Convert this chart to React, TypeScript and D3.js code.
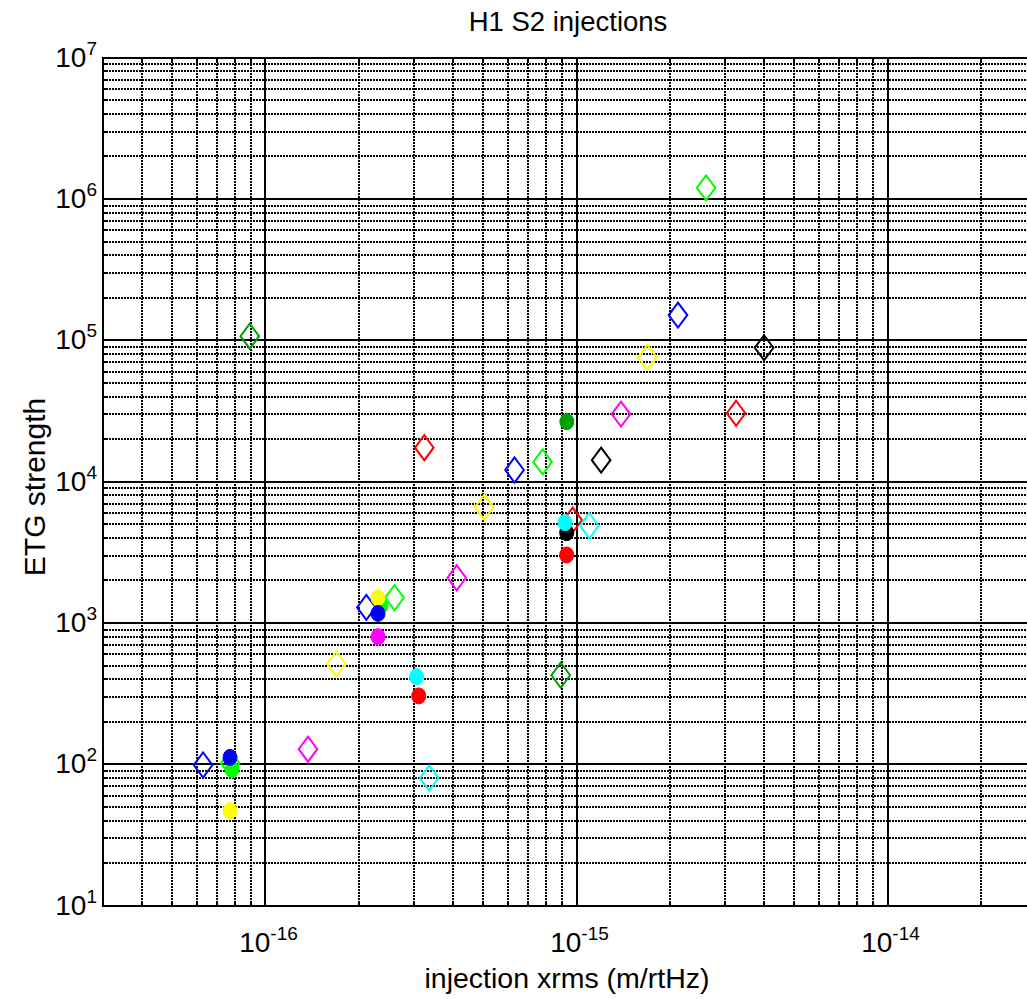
import React from "react";
import * as d3 from "d3";

// ---- data (x: injection xrms m/rtHz, y: ETG strength) ----
const blueDiamonds: [number, number][] = [[6.3e-17, 99], [2.11e-16, 1290], [6.32e-16, 1.21e4], [2.12e-15, 1.51e5]];
const greenDiamonds: [number, number][] = [[7.7e-17, 102], [2.6e-16, 1510], [7.78e-16, 1.38e4], [2.61e-15, 1.2e6]];
const darkGreenDiamonds: [number, number][] = [[8.9e-17, 1.07e5], [8.9e-16, 427]];
const redDiamonds: [number, number][] = [[3.24e-16, 1.74e4], [9.72e-16, 5350], [3.26e-15, 3.05e4]];
const cyanDiamonds: [number, number][] = [[3.36e-16, 80], [1.1e-15, 4880]];
const magentaDiamonds: [number, number][] = [[1.37e-16, 128], [4.12e-16, 2090], [1.39e-15, 3.01e4]];
const yellowDiamonds: [number, number][] = [[1.69e-16, 513], [5.05e-16, 6600], [1.69e-15, 7.59e4]];
const blackDiamonds: [number, number][] = [[1.2e-15, 1.42e4], [4.01e-15, 8.87e4]];

const greenCircles: [number, number][] = [[7.8e-17, 92], [2.35e-16, 1320]];
const yellowCircles: [number, number][] = [[7.69e-17, 47], [2.3e-16, 1510]];
const blueCircles: [number, number][] = [[7.69e-17, 112], [2.3e-16, 1170]];
const magentaCircles: [number, number][] = [[2.3e-16, 800]];
const blackCircles: [number, number][] = [[9.3e-16, 4360]];
const cyanCircles: [number, number][] = [[3.06e-16, 417], [9.19e-16, 5130]];
const redCircles: [number, number][] = [[3.11e-16, 305], [9.3e-16, 3030]];
const darkGreenCircles: [number, number][] = [[9.31e-16, 2.66e4]];

const xTickExps = [-16, -15, -14];
const yTickExps = [1, 2, 3, 4, 5, 6, 7];

const title = "H1 S2 injections";
const xLabel = "injection xrms (m/rtHz)";
const yLabel = "ETG strength";

const diamondSeries = [
  { data: blueDiamonds, color: "#0000ff" },
  { data: greenDiamonds, color: "#00ff00" },
  { data: darkGreenDiamonds, color: "#00a000" },
  { data: redDiamonds, color: "#ff0000" },
  { data: cyanDiamonds, color: "#00ffff" },
  { data: magentaDiamonds, color: "#ff00ff" },
  { data: yellowDiamonds, color: "#ffff00" },
  { data: blackDiamonds, color: "#000000" },
];
const circleSeries = [
  { data: greenCircles, color: "#00ff00" },
  { data: yellowCircles, color: "#ffff00" },
  { data: blueCircles, color: "#0000ff" },
  { data: magentaCircles, color: "#ff00ff" },
  { data: blackCircles, color: "#000000" },
  { data: cyanCircles, color: "#00ffff" },
  { data: redCircles, color: "#ff0000" },
  { data: darkGreenCircles, color: "#00a000" },
];

const W = 1027;
const H = 999;
const FONT = "'Liberation Sans', Arial, Helvetica, sans-serif";

export default function App() {
  const decade = 311;
  const x0 = 265.5 - Math.log10(1e-16 / 3e-17) * decade;
  const x = d3.scaleLog().domain([3e-17, 3e-14]).range([x0, x0 + 3 * decade]);
  const y = d3.scaleLog().domain([10, 1e7]).range([905.7, 57.7]);
  const [xl, xr] = x.range();
  const [yb, yt] = y.range();
  const snap = (v: number) => Math.round(v);

  const xGrid: { v: number; major: boolean }[] = [];
  for (let e = -17; e <= -14; e++) {
    for (let k = 1; k <= 9; k++) {
      const v = k * Math.pow(10, e);
      if (v >= 3e-17 * 0.999 && v <= 3e-14 * 1.001) xGrid.push({ v, major: k === 1 });
    }
  }
  const yGrid: { v: number; major: boolean }[] = [];
  for (let e = 1; e <= 7; e++) {
    for (let k = 1; k <= 9; k++) {
      const v = k * Math.pow(10, e);
      if (v >= 10 && v <= 1e7 * 1.001) yGrid.push({ v, major: k === 1 });
    }
  }

  const dw = 9.3;
  const dh = 12.5;
  const diamondPath = (cx: number, cy: number) =>
    `M${cx},${cy - dh}L${cx + dw},${cy}L${cx},${cy + dh}L${cx - dw},${cy}Z`;

  return (
    <svg
      width={W}
      height={H}
      style={{ position: "absolute", left: 0, top: 0, display: "block", background: "#fff" }}
      fontFamily={FONT}
    >
      <rect x={0} y={0} width={W} height={H} fill="#fff" />
      {/* grid */}
      <g shapeRendering="crispEdges">
        {yGrid.map((g, i) => (
          <line
            key={"yg" + i}
            x1={snap(xl)}
            x2={snap(xr)}
            y1={snap(y(g.v))}
            y2={snap(y(g.v))}
            stroke="#000"
            strokeWidth={2}
            strokeDasharray={g.major ? undefined : "2 1"}
          />
        ))}
        {xGrid.map((g, i) => (
          <line
            key={"xg" + i}
            x1={snap(x(g.v))}
            x2={snap(x(g.v))}
            y1={snap(yt)}
            y2={snap(yb)}
            stroke="#000"
            strokeWidth={2}
            strokeDasharray={g.major ? undefined : "2 1"}
          />
        ))}
        {/* small tick marks */}
        {xGrid.map((g, i) => (
          <g key={"xt" + i}>
            <line x1={snap(x(g.v))} x2={snap(x(g.v))} y1={snap(yb)} y2={snap(yb) - (g.major ? 8 : 4)} stroke="#000" strokeWidth={2} />
            <line x1={snap(x(g.v))} x2={snap(x(g.v))} y1={snap(yt)} y2={snap(yt) + (g.major ? 8 : 4)} stroke="#000" strokeWidth={2} />
          </g>
        ))}
        {yGrid.map((g, i) => (
          <line key={"yt" + i} x1={snap(xl)} x2={snap(xl) + (g.major ? 8 : 4)} y1={snap(y(g.v))} y2={snap(y(g.v))} stroke="#000" strokeWidth={2} />
        ))}
        {/* frame */}
        <rect x={snap(xl)} y={snap(yt)} width={snap(xr) - snap(xl)} height={snap(yb) - snap(yt)} fill="none" stroke="#000" strokeWidth={2} />
      </g>

      {/* markers */}
      <g>
        {diamondSeries.map((s, si) =>
          s.data.map((d, i) => (
            <path
              key={`d${si}-${i}`}
              d={diamondPath(x(d[0]), y(d[1]))}
              fill="none"
              stroke={s.color}
              strokeWidth={2}
            />
          ))
        )}
        {circleSeries.map((s, si) =>
          s.data.map((d, i) => (
            <ellipse key={`c${si}-${i}`} cx={x(d[0])} cy={y(d[1])} rx={7} ry={8} fill={s.color} stroke={s.color} strokeWidth={1} />
          ))
        )}
      </g>

      {/* x tick labels */}
      {xTickExps.map((e) => {
        const px = x(Math.pow(10, e));
        return (
          <text key={"xl" + e} x={px + 3} y={952} fontSize={28} textAnchor="middle" fill="#000">
            10
            <tspan dy={-12} fontSize={19}>{e}</tspan>
          </text>
        );
      })}
      {/* y tick labels */}
      {yTickExps.map((e) => {
        const py = y(Math.pow(10, e));
        return (
          <text key={"yl" + e} x={97} y={py + 9} fontSize={28} textAnchor="end" fill="#000">
            10
            <tspan dy={-12} fontSize={19}>{e}</tspan>
          </text>
        );
      })}

      <text x={568} y={31} fontSize={27.5} textAnchor="middle" fill="#000">
        {title}
      </text>
      <text x={567} y={988} fontSize={28.5} textAnchor="middle" fill="#000">
        {xLabel}
      </text>
      <text
        transform={`translate(45, 487) rotate(-90)`}
        fontSize={30}
        textAnchor="middle"
        fill="#000"
      >
        {yLabel}
      </text>
    </svg>
  );
}
